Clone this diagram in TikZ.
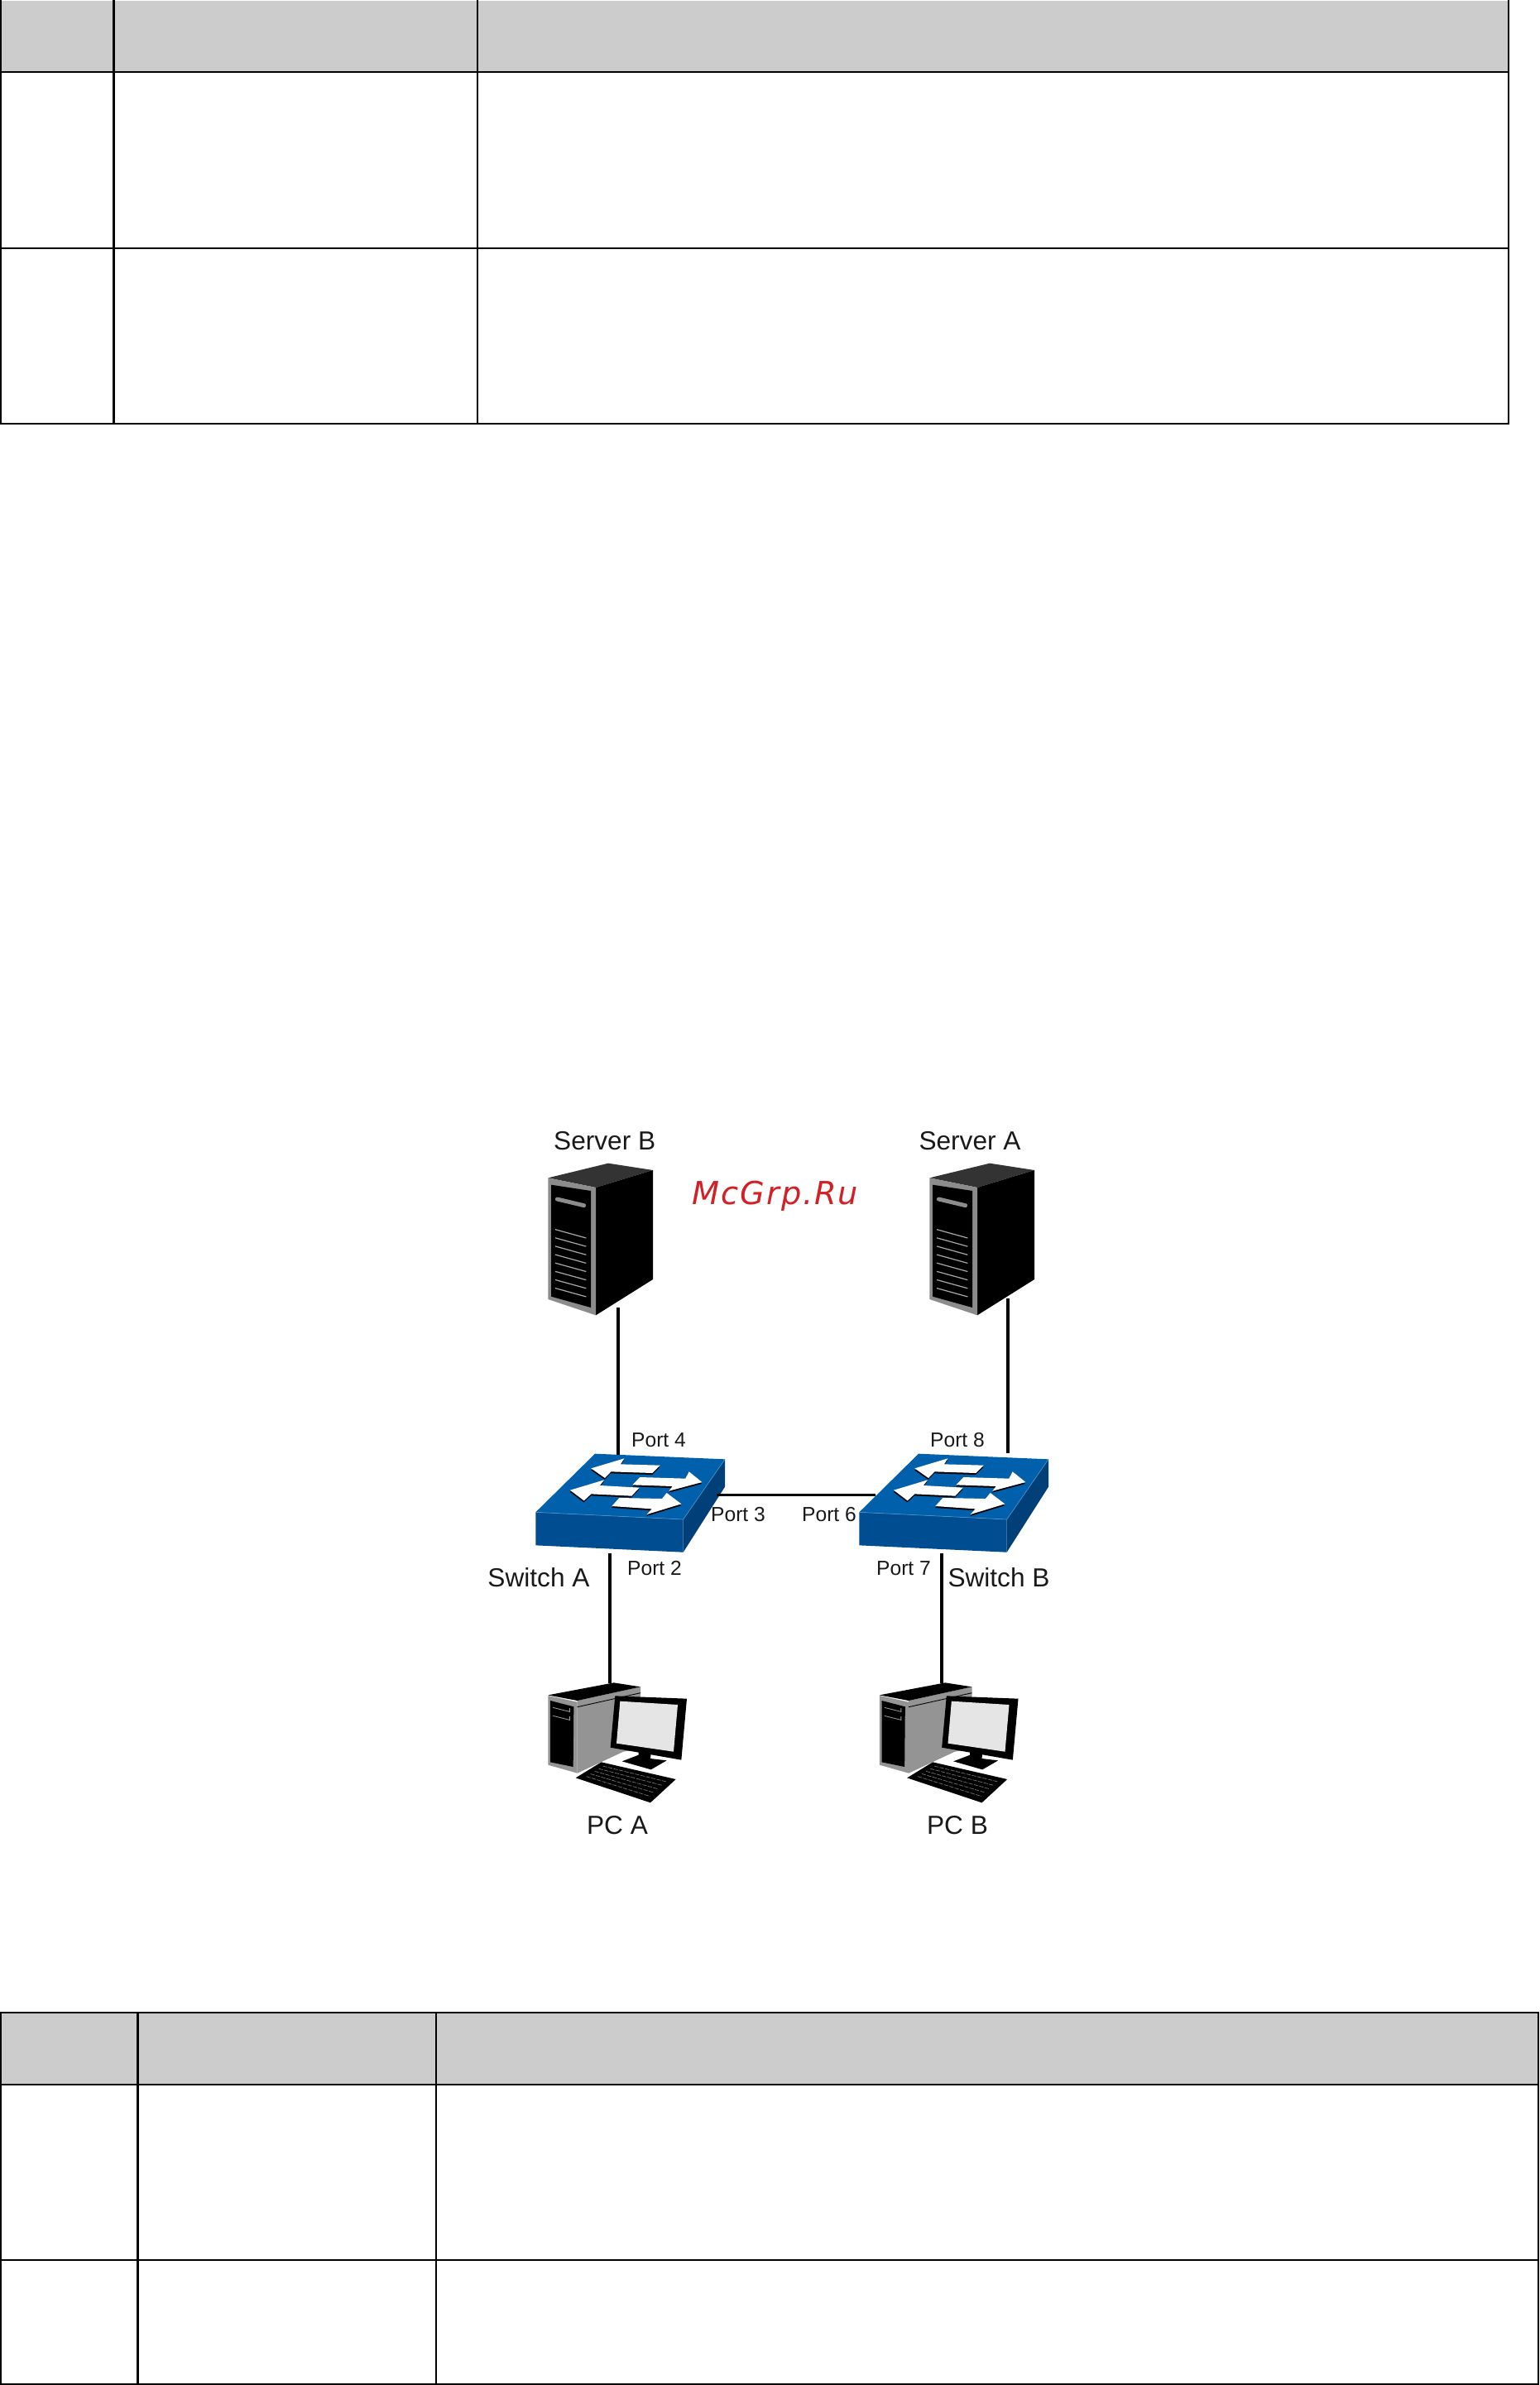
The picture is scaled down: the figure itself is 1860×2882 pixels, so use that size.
\documentclass[tikz,border=0pt]{standalone}
\usepackage{fontspec}
\setmainfont{Liberation Sans}
\newfontfamily\markfont[LetterSpace=5]{DejaVu Sans}
\usepackage{tikz}
\usetikzlibrary{positioning}

\definecolor{headgray}{HTML}{CCCCCC}
\definecolor{swtop}{HTML}{0060AB}
\definecolor{swfront}{HTML}{004E91}
\definecolor{swside}{HTML}{003F78}
\definecolor{markred}{HTML}{D22027}

\newcommand{\flowarrow}[1]{
	\fill[black,shift={(-1,6)}] #1 -- cycle;
	\fill[white] #1 -- cycle;
}

\tikzset{
	rule/.style={line width=1.2pt,black},
	cable/.style={line width=1.9pt,black},
	biglabel/.style={inner sep=0pt,text=black!90,font=\fontsize{18}{20}\selectfont},
	portlabel/.style={inner sep=0pt,text=black!90,font=\fontsize{14}{16}\selectfont},
	serverbox/.pic={
		\fill[black!80] (67,100) -- (285,47) -- (447,72) -- (240,135) -- cycle;
		\fill[black] (240,135) -- (447,72) -- (447,468) -- (240,598) -- cycle;
		\fill[black!45] (67,100) -- (240,135) -- (240,598) -- (67,540) -- cycle;
		\fill[black] (78,125) -- (222,147) -- (222,570) -- (78,530) -- cycle;
		\draw[black!45,line width=2.8pt,line cap=round] (100,177) -- (197,200);
		\foreach \i in {0,...,7}
			\draw[black!35,line width=.7pt] (93,{287+30.4*\i}) -- (205,{318+30.4*\i});
	},
	switchbox/.pic={
		\fill[swtop] (297,80) -- (768,100) -- (617,318) -- (82,292) -- cycle;
		\fill[swfront] (82,292) -- (617,318) -- (617,437) -- (82,412) -- cycle;
		\fill[swside] (617,318) -- (768,100) -- (768,200) -- (617,437) -- cycle;
		\draw[swtop!70!white,line width=.4pt] (82,292) -- (617,318) -- (768,100);
		\flowarrow{(283,133) -- (403,97) -- (390,118) -- (533,122) -- (505,150) -- (355,145) -- (333,168)}
		\flowarrow{(460,165) -- (625,170) -- (638,145) -- (685,183) -- (565,215) -- (578,198) -- (433,193)}
		\flowarrow{(207,212) -- (330,175) -- (315,195) -- (458,203) -- (430,233) -- (283,226) -- (257,250)}
		\flowarrow{(385,240) -- (540,243) -- (557,222) -- (610,262) -- (485,300) -- (503,280) -- (358,270)}
	},
	pcbox/.pic={
		\fill[black!42] (203,165) -- (432,115) -- (432,340) -- (370,350) -- (203,428) -- cycle;
		\fill[black!42] (97,147) -- (203,170) -- (203,428) -- (97,398) -- cycle;
		\fill[black] (97,145) -- (335,100) -- (432,115) -- (203,165) -- cycle;
		\fill[black] (105,165) -- (190,187) -- (188,405) -- (105,388) -- cycle;
		\draw[black,line width=.5pt] (203,188) -- (432,137);
		\draw[black!40,line width=.5pt] (115,190) -- (175,205) -- (175,192) (115,220) -- (175,235) -- (175,222);
		\fill[black] (425,345) -- (470,355) -- (468,375) -- (527,382) -- (470,415) -- (365,385) -- (425,362) -- cycle;
		\fill[black] (340,148) -- (600,158) -- (580,380) -- (323,335) -- cycle;
		\fill[black!10] (358,167) -- (567,180) -- (552,350) -- (345,320) -- cycle;
		\fill[black] (197,445) -- (290,388) -- (560,450) -- (468,535) -- cycle;
		\foreach \t in {.2,.36,.52,.68,.84}
			\draw[black!55,line width=.4pt,dash pattern=on 3pt off .8pt,shorten <=4pt,shorten >=4pt]
			({197+93*\t},{445-57*\t}) -- ({468+92*\t},{535-85*\t});
	}
}

\begin{document}
\begin{tikzpicture}[x=.02cm,y=-.02cm]
	\useasboundingbox (0,0) rectangle (1860,2882);
	% upper table
	\fill[headgray] (1,1) rectangle (1823,87);
	\draw[rule] (137.5,0) -- (137.5,512) (577,0) -- (577,512) (1,0) -- (1,512) (1822.7,0) -- (1822.7,512);
	\foreach \y in {87,300,512}
		\draw[rule] (0,\y) -- (1823.7,\y);
	% lower table
	\fill[headgray] (1,2432) rectangle (1859,2519);
	\draw[rule] (166.5,2432) -- (166.5,2881) (527,2432) -- (527,2881) (1,2432) -- (1,2881) (1859,2432) -- (1859,2881);
	\foreach \y in {2432,2519,2731,2881}
		\draw[rule] (0,\y) -- (1860,\y);
	% devices
	\pic[shift={(640,1390)},scale=1/3] {serverbox};
	\pic[shift={(1101,1390)},scale=1/3] {serverbox};
	\pic[shift={(620,1730)},scale=1/3] {switchbox};
	\pic[shift={(1011,1730)},scale=1/3] {switchbox};
	\pic[shift={(630,2000)},scale=1/3] {pcbox};
	\pic[shift={(1030.5,2000)},scale=1/3] {pcbox};
	\path (747,1580) coordinate(srvBbase)
	(1218,1569) coordinate(srvAbase)
	(747,1758) coordinate(swAup)
	(1218,1756) coordinate(swBup)
	(866,1806.7) coordinate(swAright)
	(1058,1806.7) coordinate(swBleft)
	(737,1877) coordinate(swAdown)
	(1138,1877) coordinate(swBdown)
	(737,2034) coordinate(pcAtop)
	(1138,2034) coordinate(pcBtop);
	\draw[cable] (srvBbase) -- (swAup);
	\draw[cable] (srvAbase) -- (swBup);
	\draw[cable] (swAright) -- (swBleft);
	\draw[cable] (swAdown) -- (pcAtop);
	\draw[cable] (swBdown) -- (pcBtop);
	% labels
	\node[biglabel] (lblSrvB) at (730.7,1378.5) {Server B};
	\node[biglabel] (lblSrvA) at (1172,1378.5) {Server A};
	\node[biglabel] (lblSwA) at (651,1906) {Switch A};
	\node[biglabel] (lblSwB) at (1207,1906) {Switch B};
	\node[biglabel] (lblPcA) at (746,2206) {PC A};
	\node[biglabel] (lblPcB) at (1157,2206) {PC B};
	\node[portlabel] (lblP4) at (796,1740) {Port 4};
	\node[portlabel] (lblP8) at (1157,1740) {Port 8};
	\node[portlabel] (lblP3) at (892,1830) {Port 3};
	\node[portlabel] (lblP6) at (1002,1830) {Port 6};
	\node[portlabel] (lblP2) at (791,1895) {Port 2};
	\node[portlabel] (lblP7) at (1092,1895) {Port 7};
	\node[anchor=base,inner sep=0pt,text=markred,font=\markfont\itshape\fontsize{21.8}{24}\selectfont] (lblMark) at (937,1455) {McGrp.Ru};
\end{tikzpicture}
\end{document}
